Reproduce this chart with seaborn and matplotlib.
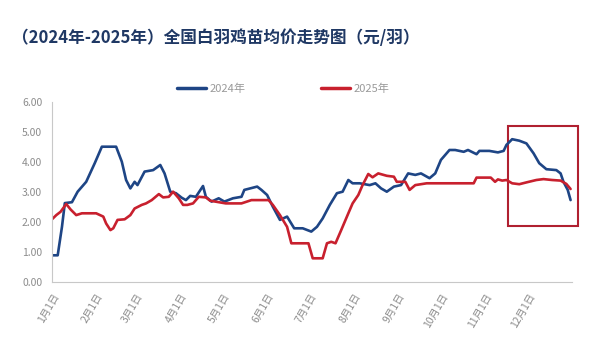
import matplotlib
matplotlib.use("Agg")
import matplotlib.pyplot as plt
import seaborn as sns
import pandas as pd
from matplotlib.patches import Rectangle
from matplotlib.lines import Line2D

sns.set_theme(style="white")
plt.rcParams['font.family'] = ['Noto Sans CJK SC', 'DejaVu Sans']

title = "（2024年-2025年）全国白羽鸡苗均价走势图（元/羽）"
month_ticks = [0, 31, 59, 90, 120, 151, 181, 212, 243, 273, 304, 334, 365]
month_labels = ["1月1日", "2月1日", "3月1日", "4月1日", "5月1日", "6月1日", "7月1日",
                "8月1日", "9月1日", "10月1日", "11月1日", "12月1日", ""]

days_2024 = [0, 4, 7, 9, 14, 18, 24, 30, 35, 45, 49, 52, 55, 58, 60, 65, 71, 76, 79, 83,
             87, 91, 94, 97, 101, 106, 108, 112, 117, 121, 127, 133, 135, 144, 147, 151,
             155, 160, 165, 170, 176, 182, 186, 190, 195, 200, 204, 208, 211, 216, 223,
             227, 231, 235, 240, 245, 250, 255, 259, 265, 269, 273, 279, 283, 289, 292,
             298, 300, 307, 313, 317, 319, 323, 328, 333, 338, 342, 347, 354, 357, 359,
             362, 364]
vals_2024 = [0.88, 0.88, 1.83, 2.62, 2.65, 3.00, 3.33, 3.95, 4.50, 4.50, 4.00, 3.39, 3.11,
             3.33, 3.22, 3.67, 3.72, 3.89, 3.61, 3.00, 2.95, 2.80, 2.72, 2.86, 2.83, 3.19,
             2.83, 2.67, 2.78, 2.67, 2.78, 2.83, 3.06, 3.17, 3.06, 2.89, 2.50, 2.06, 2.17,
             1.78, 1.78, 1.67, 1.83, 2.11, 2.56, 2.95, 3.00, 3.39, 3.28, 3.28, 3.22, 3.28,
             3.11, 3.00, 3.17, 3.22, 3.61, 3.56, 3.61, 3.45, 3.61, 4.06, 4.39, 4.39, 4.33,
             4.39, 4.25, 4.36, 4.36, 4.31, 4.36, 4.56, 4.75, 4.70, 4.61, 4.28, 3.95, 3.75,
             3.72, 3.61, 3.33, 3.06, 2.72]

days_2025 = [0, 3, 6, 10, 13, 17, 21, 31, 36, 38, 41, 43, 46, 51, 55, 58, 63, 66, 70, 75,
             78, 82, 85, 89, 92, 95, 99, 103, 108, 111, 122, 133, 140, 152, 155, 160, 165,
             168, 180, 183, 190, 193, 196, 199, 203, 208, 211, 215, 218, 222, 225, 229,
             235, 240, 242, 248, 251, 255, 263, 279, 296, 298, 308, 311, 313, 316, 319,
             323, 328, 333, 340, 345, 351, 357, 361, 364]
vals_2025 = [2.08, 2.22, 2.33, 2.59, 2.41, 2.22, 2.28, 2.28, 2.17, 1.94, 1.72, 1.78, 2.06,
             2.08, 2.22, 2.44, 2.56, 2.61, 2.72, 2.92, 2.81, 2.83, 3.00, 2.78, 2.56, 2.56,
             2.61, 2.83, 2.81, 2.70, 2.61, 2.61, 2.72, 2.72, 2.56, 2.22, 1.83, 1.28, 1.28,
             0.78, 0.78, 1.28, 1.33, 1.28, 1.72, 2.28, 2.61, 2.89, 3.22, 3.59, 3.48, 3.61,
             3.53, 3.50, 3.33, 3.33, 3.06, 3.22, 3.28, 3.28, 3.28, 3.47, 3.47, 3.33, 3.41,
             3.37, 3.39, 3.28, 3.25, 3.31, 3.39, 3.42, 3.39, 3.37, 3.26, 3.09]

df = pd.concat([
    pd.DataFrame({"day": days_2024, "price": vals_2024, "year": "2024年"}),
    pd.DataFrame({"day": days_2025, "price": vals_2025, "year": "2025年"}),
], ignore_index=True)

blue = "#1E4585"
red = "#C8202E"

fig = plt.figure(figsize=(5.92, 3.63), dpi=100)
ax = fig.add_axes([52/592, 1-281.7/363, 520/592, 180/363])

sns.lineplot(data=df, x="day", y="price", hue="year", palette={"2024年": blue, "2025年": red},
             linewidth=1.9, ax=ax, legend=False, estimator=None, sort=True)

ax.set_xlim(0, 365)
ax.set_ylim(0, 6)
ax.set_yticks([0, 1, 2, 3, 4, 5, 6])
ax.set_yticklabels([f"{v:.2f}" for v in range(7)])
ax.set_xticks(month_ticks)
ax.set_xticklabels(month_labels, rotation=60, ha="right", rotation_mode="anchor")
ax.set_xlabel("")
ax.set_ylabel("")
for s in ["top", "right"]:
    ax.spines[s].set_visible(False)
for s in ["left", "bottom"]:
    ax.spines[s].set_color("#C8C8C8")
    ax.spines[s].set_linewidth(0.8)
ax.tick_params(axis="both", which="both", length=3, width=0.8, color="#C8C8C8",
               labelcolor="#8C8C8C", labelsize=7.5, direction="out")
ax.tick_params(axis="x", pad=4)
ax.tick_params(axis="y", pad=4)

# highlight box
box = Rectangle((320, 1.86), 49, 3.33, fill=False, edgecolor="#B02030", linewidth=1.5,
                clip_on=False)
ax.add_patch(box)

# legend
handles = [Line2D([0], [0], color=blue, lw=2.5), Line2D([0], [0], color=red, lw=2.5)]
leg = fig.legend(handles, ["2024年", "2025年"], loc="center", bbox_to_anchor=(283/592, 1-89/363),
                 ncol=2, frameon=False, fontsize=8, handlelength=2.6, handletextpad=0.3,
                 columnspacing=6.8)
for t in leg.get_texts():
    t.set_color("#9A9A9A")

fig.text(12/592, 1-38/363, title, fontsize=12, fontweight="bold", color="#1F3864",
         ha="left", va="center")

fig.savefig("out.png", dpi=100, facecolor="white")
